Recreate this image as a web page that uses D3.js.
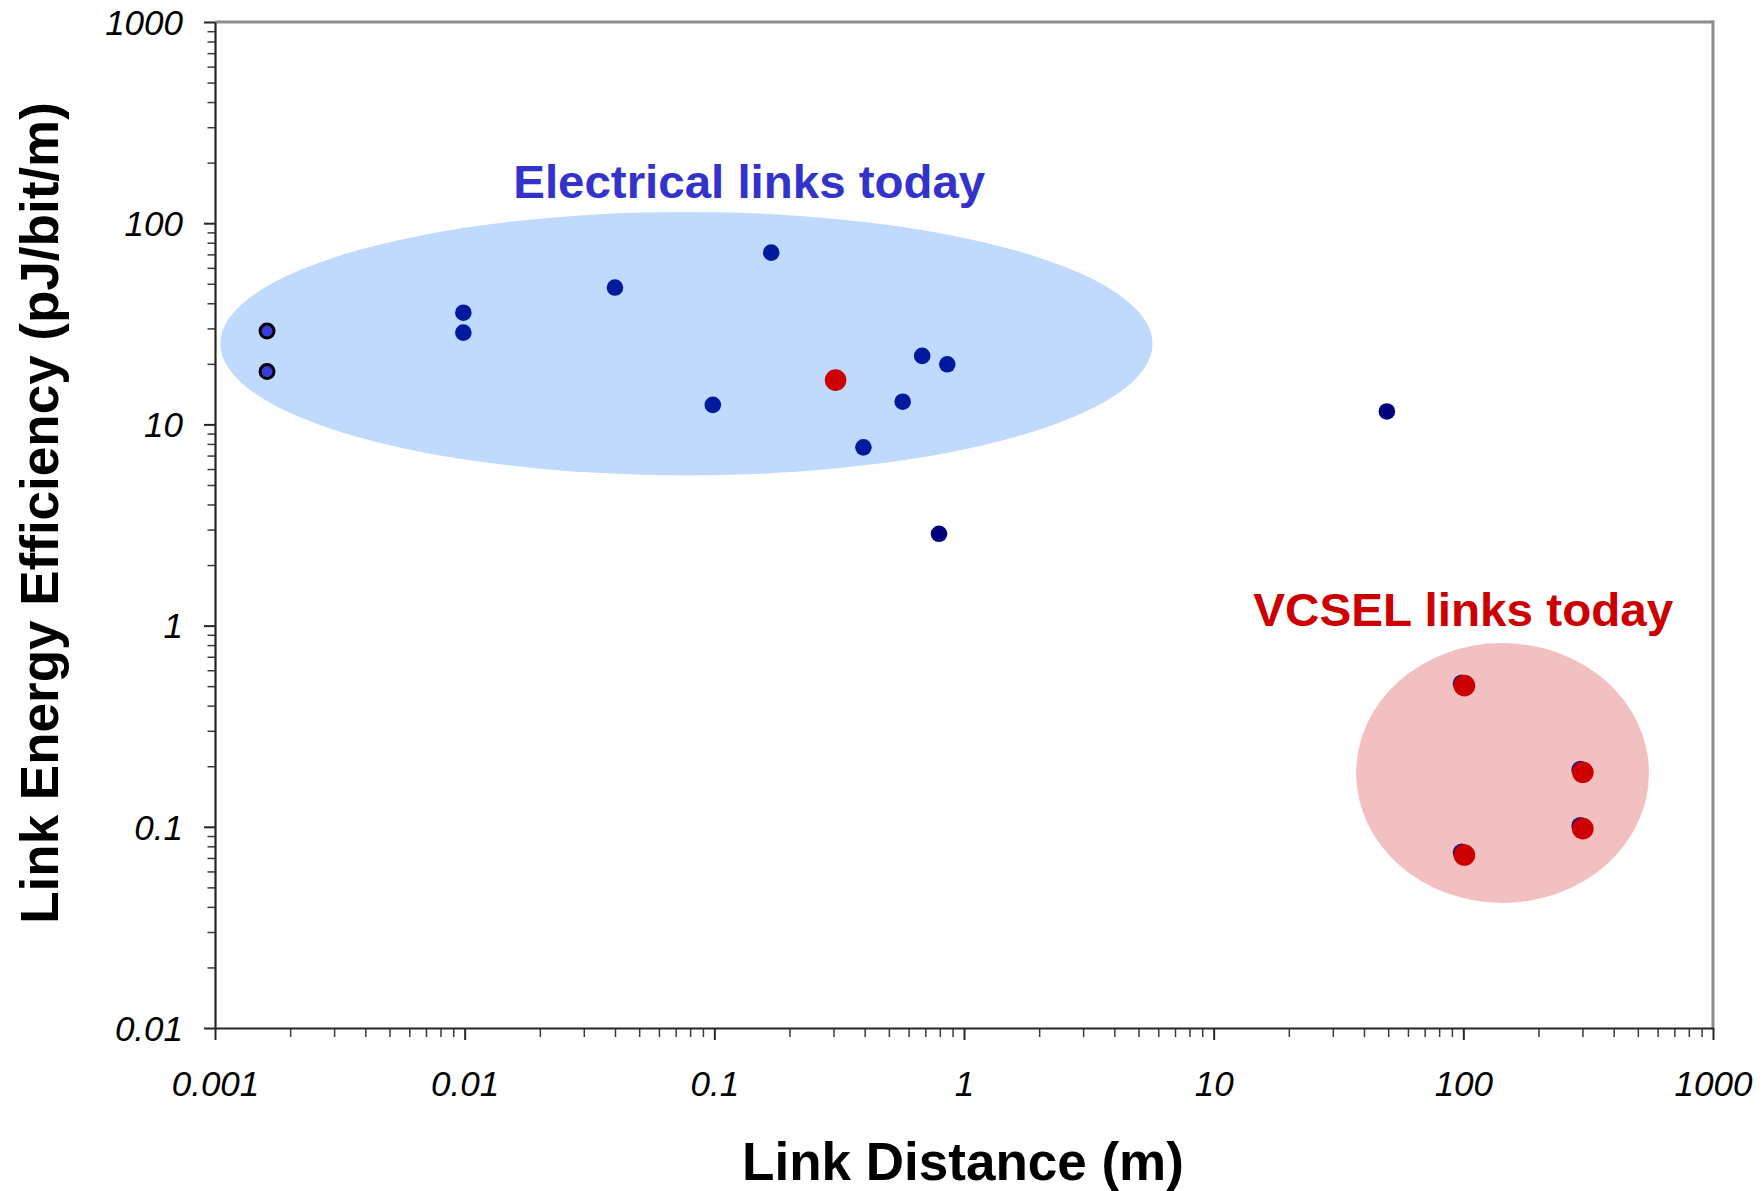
<!DOCTYPE html>
<html>
<head>
<meta charset="utf-8">
<script src="https://cdn.jsdelivr.net/npm/d3@7"></script>
<style>
  body { margin: 0; background: #ffffff; }
  svg { display: block; font-family: 'Liberation Sans', Arial, sans-serif; }
  .tick-label { font-style: italic; font-size: 35px; fill: #000; }
  .axis-title { font-weight: bold; font-size: 53px; fill: #000; }
  .note { font-weight: bold; font-size: 47px; }
</style>
</head>
<body>
<svg id="chart"></svg>
<script>
// set svg size and plot margins
const width = 1763;
const height = 1191;

const margin = {
  top: 22,
  bottom: 163,
  left: 215,
  right: 50
};

// tick values and labels (log axes)
const xTicks = [0.001, 0.01, 0.1, 1, 10, 100, 1000];
const xTickLabels = ['0.001', '0.01', '0.1', '1', '10', '100', '1000'];
const yTicks = [0.01, 0.1, 1, 10, 100, 1000];
const yTickLabels = ['0.01', '0.1', '1', '10', '100', '1000'];

// electrical links, blue dots [distance m, pJ/bit/m]
const electricalX = [0.00988, 0.00988, 0.040, 0.169, 0.0986, 0.680, 0.857, 0.568, 0.3955];
const electricalY = [35.9, 28.6, 47.9, 71.4, 12.5, 21.9, 19.9, 12.97, 7.69];

// older links, dark navy dots
const navyX = [0.794, 49.4];
const navyY = [2.86, 11.6];

// outlined dots at the far left
const outlinedX = [0.001616, 0.001616];
const outlinedY = [29.1, 18.3];

// blue dots hidden under the VCSEL reds
const underX = [98.5, 294, 294, 98.5];
const underY = [0.515, 0.192, 0.101, 0.0745];

// optical / VCSEL links, red dots
const redX = [0.306, 101, 301, 301, 101];
const redY = [16.6, 0.503, 0.1866, 0.0979, 0.0724];

// shaded regions, bounds in data units [x0, x1, y0, y1]
const electricalRegion = [0.00105, 5.69, 113.7, 5.58];
const vcselRegion = [37.2, 554, 0.819, 0.0418];

// annotations [x, y] in data units for the text anchor
const annotations = [
  { text: 'Electrical links today', x: 0.138, y: 133, color: '#3333cc', len: 472 },
  { text: 'VCSEL links today', x: 100, y: 1.0, color: '#cc0000', len: 420 }
];

const svg = d3.select('#chart');
svg.attr('width', width);
svg.attr('height', height);

const plot = svg.append('g').attr('id', 'plot');
plot.attr('transform', translate(margin.left, margin.top));

const plotW = width - margin.left - margin.right;
const plotH = height - margin.top - margin.bottom;

const scales = {
  x: d3.scaleLog().domain([0.001, 1000]).range([0, plotW]),
  y: d3.scaleLog().domain([0.01, 1000]).range([plotH, 0])
};

drawRegions();
drawAxis();
drawPoints();
drawNotes();
drawTitles();

/*
 * shaded ellipses behind the points
 */
function drawRegions() {
  const group = plot.append('g').attr('id', 'regions');
  const regions = [
    { b: electricalRegion, fill: '#c0dafe' },
    { b: vcselRegion, fill: '#f2c0c1' }
  ];

  group.selectAll('ellipse')
    .data(regions)
    .enter()
    .append('ellipse')
    .attr('cx', d => (scales.x(d.b[0]) + scales.x(d.b[1])) / 2)
    .attr('cy', d => (scales.y(d.b[2]) + scales.y(d.b[3])) / 2)
    .attr('rx', d => (scales.x(d.b[1]) - scales.x(d.b[0])) / 2)
    .attr('ry', d => (scales.y(d.b[3]) - scales.y(d.b[2])) / 2)
    .attr('fill', d => d.fill);
}

/*
 * axis lines, major + minor ticks
 */
function drawAxis() {
  const minorX = [];
  for (let e = -3; e < 3; e++) {
    for (let m = 2; m <= 9; m++) minorX.push(m * Math.pow(10, e));
  }
  const minorY = [];
  for (let e = -2; e < 3; e++) {
    for (let m = 2; m <= 9; m++) minorY.push(m * Math.pow(10, e));
  }

  // gray frame on top and right
  const frame = plot.append('g').attr('id', 'frame');
  frame.append('line')
    .attr('x1', 0).attr('x2', plotW)
    .attr('y1', 0).attr('y2', 0)
    .attr('stroke', '#8c8c8c').attr('stroke-width', 3);
  frame.append('line')
    .attr('x1', plotW).attr('x2', plotW)
    .attr('y1', -1.5).attr('y2', plotH)
    .attr('stroke', '#8c8c8c').attr('stroke-width', 3);

  // minor ticks
  const xMinor = plot.append('g')
    .attr('class', 'axis minor')
    .attr('transform', translate(0, plotH))
    .call(d3.axisBottom(scales.x).tickValues(minorX).tickSize(9).tickFormat(''));
  const yMinor = plot.append('g')
    .attr('class', 'axis minor')
    .call(d3.axisLeft(scales.y).tickValues(minorY).tickSize(7.5).tickFormat(''));
  [xMinor, yMinor].forEach(g => {
    g.select('.domain').remove();
    g.selectAll('line').attr('stroke', '#3a3a3a').attr('stroke-width', 1.5);
  });

  // major ticks with labels
  const xGroup = plot.append('g')
    .attr('id', 'x-axis')
    .attr('transform', translate(0, plotH))
    .call(d3.axisBottom(scales.x)
      .tickValues(xTicks)
      .tickSize(12)
      .tickSizeOuter(0)
      .tickFormat((d, i) => xTickLabels[i]));
  xGroup.selectAll('text')
    .attr('class', 'tick-label')
    .attr('y', 68)
    .attr('dy', 0);

  const yGroup = plot.append('g')
    .attr('id', 'y-axis')
    .call(d3.axisLeft(scales.y)
      .tickValues(yTicks)
      .tickSize(11)
      .tickSizeOuter(0)
      .tickFormat((d, i) => yTickLabels[i]));
  yGroup.selectAll('text')
    .attr('class', 'tick-label')
    .attr('x', -32)
    .attr('dy', '0.35em');

  [xGroup, yGroup].forEach(g => {
    g.attr('font-family', null).attr('font-size', null);
    g.select('.domain').attr('stroke', '#262626').attr('stroke-width', 2.2);
    g.selectAll('.tick line').attr('stroke', '#262626').attr('stroke-width', 2);
  });
}

/*
 * scatter dots, drawn series by series so reds end on top
 */
function drawPoints() {
  const group = plot.append('g').attr('id', 'points');

  const series = [
    { xs: electricalX, ys: electricalY, r: 8.3, fill: '#001a9e', stroke: 'none', sw: 0 },
    { xs: navyX, ys: navyY, r: 8.3, fill: '#00007c', stroke: 'none', sw: 0 },
    { xs: outlinedX, ys: outlinedY, r: 7, fill: '#3b3bd5', stroke: '#000', sw: 3 },
    { xs: underX, ys: underY, r: 9, fill: '#1a1a80', stroke: 'none', sw: 0 },
    { xs: redX, ys: redY, r: 10.8, fill: '#cc0000', stroke: 'none', sw: 0 }
  ];

  series.forEach(s => {
    const pts = s.xs.map((x, i) => ({ x: x, y: s.ys[i] }));
    group.append('g')
      .selectAll('circle')
      .data(pts)
      .enter()
      .append('circle')
      .attr('cx', d => scales.x(d.x))
      .attr('cy', d => scales.y(d.y))
      .attr('r', s.r)
      .attr('fill', s.fill)
      .attr('stroke', s.stroke)
      .attr('stroke-width', s.sw);
  });
}

/*
 * region labels
 */
function drawNotes() {
  const group = plot.append('g').attr('id', 'notes');
  group.selectAll('text')
    .data(annotations)
    .enter()
    .append('text')
    .attr('class', 'note')
    .attr('x', d => scales.x(d.x))
    .attr('y', d => scales.y(d.y))
    .attr('text-anchor', 'middle')
    .attr('fill', d => d.color)
    .attr('textLength', d => d.len)
    .attr('lengthAdjust', 'spacingAndGlyphs')
    .text(d => d.text);
}

/*
 * axis titles
 */
function drawTitles() {
  const xMiddle = margin.left + midpoint(scales.x.range());
  const yMiddle = margin.top + midpoint(scales.y.range());

  svg.append('text')
    .attr('class', 'axis-title')
    .attr('x', xMiddle - 1)
    .attr('y', 1180)
    .attr('text-anchor', 'middle')
    .text('Link Distance (m)');

  const yGroup = svg.append('g');
  yGroup.attr('transform', translate(58, yMiddle - 12));
  yGroup.append('text')
    .attr('class', 'axis-title')
    .attr('text-anchor', 'middle')
    .attr('transform', 'rotate(-90)')
    .text('Link Energy Efficiency (pJ/bit/m)');
}

function midpoint(range) {
  return range[0] + (range[1] - range[0]) / 2.0;
}

function translate(x, y) {
  return 'translate(' + String(x) + ',' + String(y) + ')';
}
</script>
</body>
</html>
